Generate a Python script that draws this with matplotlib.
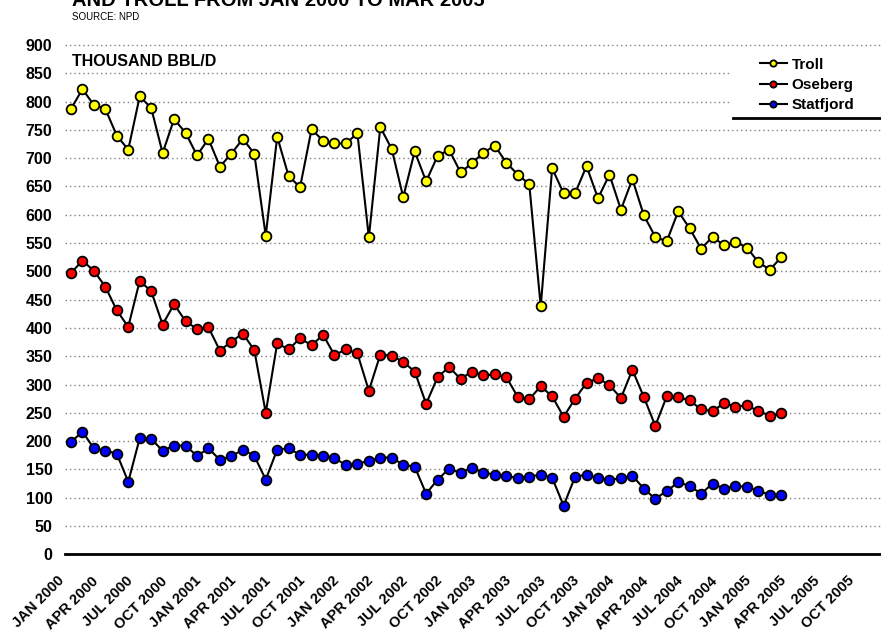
import matplotlib
matplotlib.use('Agg')
import numpy as np
import matplotlib.pyplot as plt
from matplotlib.patches import Rectangle
from matplotlib.lines import Line2D
from matplotlib.transforms import ScaledTranslation

plt.rcParams['font.family'] = ['Liberation Sans', 'DejaVu Sans']
plt.rcParams['font.weight'] = 'bold'

# monthly output, Jan 2000 .. Mar 2005, thousand bbl/d
troll = [787, 822, 794, 787, 740, 715, 809, 789, 709, 769, 745, 705,
         734, 685, 708, 734, 708, 563, 738, 668, 649, 751, 731, 726,
         726, 744, 560, 755, 716, 631, 712, 659, 704, 715, 675, 691,
         710, 722, 692, 671, 654, 438, 682, 638, 638, 686, 629, 671,
         609, 663, 599, 561, 553, 606, 576, 540, 561, 546, 552, 542,
         516, 503, 525]
oseberg = [497, 519, 501, 473, 431, 402, 483, 465, 406, 442, 412, 398,
           401, 360, 376, 390, 361, 250, 373, 362, 382, 369, 388, 352,
           362, 355, 289, 353, 351, 340, 323, 266, 313, 331, 310, 323,
           316, 318, 313, 278, 274, 297, 279, 243, 275, 303, 311, 299,
           276, 326, 278, 227, 279, 278, 272, 256, 253, 267, 261, 263,
           253, 245, 249]
statfjord = [198, 217, 187, 183, 178, 128, 205, 204, 183, 192, 192, 174,
             187, 167, 173, 185, 174, 132, 185, 187, 176, 176, 174, 171,
             157, 160, 165, 171, 171, 158, 155, 107, 132, 151, 144, 153,
             144, 141, 139, 134, 137, 141, 135, 86, 137, 141, 134, 132,
             134, 139, 116, 98, 112, 127, 121, 107, 125, 116, 121, 119,
             112, 105, 105]

months = ['JAN', 'APR', 'JUL', 'OCT']
tick_pos = list(range(0, 70, 3))
tick_labels = ['%s %d' % (months[(p // 3) % 4], 2000 + p // 12) for p in tick_pos]

W, H = 881, 633
fig = plt.figure(figsize=(W / 100, H / 100), dpi=100)

# axes box in pixels: left 65, right 881, y=0 at 554.3, 900 at 45
y0 = 554.3
ppu = (554.3 - 45) / 900.0
ytop = 905
ax = fig.add_axes([65 / W, 1 - y0 / H, (W - 65) / W, (ytop * ppu) / H])

x = np.arange(len(troll))
series = [(troll, '#FFFF00', 'Troll'), (oseberg, '#FF0000', 'Oseberg'),
          (statfjord, '#0000FF', 'Statfjord')]
for vals, col, lab in series:
    ax.plot(x, vals, color='black', lw=1.5, marker='o', ms=7,
            mfc=col, mec='black', mew=1.3, label=lab, zorder=3)

ax.set_xlim(-0.52, 70.7)
ax.set_ylim(0, ytop)
ax.set_yticks(np.arange(0, 901, 50))
ax.set_yticklabels([str(v) for v in range(0, 901, 50)], fontsize=11.5, fontweight='bold')
ax.set_xticks(tick_pos)
ax.set_xticklabels(tick_labels, fontsize=10.5, fontweight='bold', rotation=45,
                   ha='right', va='top', rotation_mode='anchor')
ax.tick_params(axis='both', length=0)
ax.tick_params(axis='y', pad=9)
ax.tick_params(axis='x', pad=14)
off = ScaledTranslation(-14 / 100, 0, fig.dpi_scale_trans)
for lbl in ax.get_xticklabels():
    lbl.set_transform(lbl.get_transform() + off)

ax.set_axisbelow(True)
ax.yaxis.grid(True, color='#808080', lw=1.0, linestyle=(0, (1, 2.2)))
for s in ['top', 'right', 'left']:
    ax.spines[s].set_visible(False)
ax.spines['bottom'].set_linewidth(2)
ax.spines['bottom'].set_zorder(4)

# legend area: white box with a rule under it
ax.add_patch(Rectangle((730 / W, 1 - 117.7 / H), (W - 730) / W, 70 / H,
                       transform=fig.transFigure, facecolor='white',
                       edgecolor='none', zorder=2))
fig.add_artist(Line2D([733 / W, 1.0], [1 - 117.7 / H, 1 - 117.7 / H],
                      color='black', lw=2))
leg = ax.legend(loc='upper left', bbox_to_anchor=(752 / W, 1 - 50 / H),
                bbox_transform=fig.transFigure, frameon=False,
                prop={'family': 'Liberation Sans', 'weight': 'bold', 'size': 11},
                handlelength=1.8, handletextpad=0.3, labelspacing=0.42,
                markerscale=0.65, borderpad=0)

fig.text(72 / W, 1 - 62 / H, 'THOUSAND BBL/D',
         fontsize=11.5, fontweight='bold', va='center', ha='left')
fig.text(72 / W, 1 - 6 / H, 'AND TROLL FROM JAN 2000 TO MAR 2005',
         fontsize=14.5, fontweight='bold', va='baseline', ha='left')
fig.text(72 / W, 1 - 17 / H, 'SOURCE: NPD', fontsize=7, fontweight='normal',
         va='center', ha='left')

fig.savefig('out.png', dpi=100)
